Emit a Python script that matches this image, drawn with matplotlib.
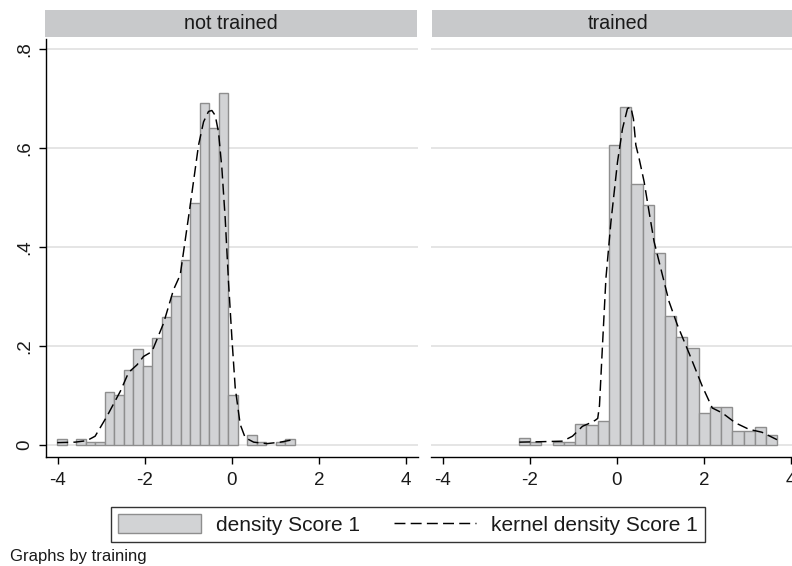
import numpy as np
import matplotlib
matplotlib.use("Agg")
import matplotlib.pyplot as plt
from matplotlib.patches import Rectangle, Patch
from matplotlib.lines import Line2D

plt.rcParams['font.family'] = ['Liberation Sans', 'DejaVu Sans']

# ---------------- data ----------------
panel_titles = ["not trained", "trained"]

# histogram: bin start, bin width, densities
nt_bin_start = -4.01
nt_bin_width = 0.2183
nt_density = [0.013, 0.0, 0.013, 0.007, 0.007, 0.108, 0.101, 0.151, 0.194, 0.159,
              0.216, 0.259, 0.302, 0.373, 0.489, 0.691, 0.640, 0.712, 0.101, 0.0,
              0.021, 0.007, 0.0, 0.007, 0.013]

tr_bin_start = -2.25
tr_bin_width = 0.258
tr_density = [0.014, 0.007, 0.0, 0.007, 0.007, 0.042, 0.040, 0.049, 0.606, 0.684,
              0.528, 0.486, 0.388, 0.260, 0.218, 0.197, 0.064, 0.077, 0.077, 0.028,
              0.028, 0.036, 0.021]

# kernel density curves
nt_kde_x = [-4.01, -3.60, -3.33, -3.14, -2.87, -2.56, -2.37, -2.18, -2.03, -1.835,
            -1.57, -1.34, -1.186, -0.956, -0.766, -0.651, -0.537, -0.46, -0.383, -0.307,
            -0.23, -0.154, -0.078, 0.0, 0.076, 0.19, 0.305, 0.50, 0.80, 1.11, 1.41]
nt_kde_y = [0.005, 0.006, 0.009, 0.018, 0.058, 0.109, 0.147, 0.162, 0.179, 0.189,
            0.246, 0.314, 0.344, 0.485, 0.606, 0.653, 0.674, 0.676, 0.666, 0.632,
            0.559, 0.458, 0.330, 0.216, 0.116, 0.042, 0.015, 0.006, 0.003, 0.006, 0.011]

tr_kde_x = [-2.24, -1.70, -1.245, -1.02, -0.79, -0.634, -0.50, -0.44, -0.40, -0.33,
            -0.252, -0.137, 0.014, 0.128, 0.243, 0.32, 0.38, 0.435, 0.51, 0.625,
            0.739, 0.854, 1.007, 1.197, 1.387, 1.655, 1.96, 2.19, 2.42, 2.72,
            3.03, 3.33, 3.675]
tr_kde_y = [0.006, 0.007, 0.008, 0.018, 0.038, 0.044, 0.050, 0.054, 0.080, 0.203,
            0.337, 0.451, 0.572, 0.639, 0.680, 0.683, 0.659, 0.606, 0.579, 0.532,
            0.471, 0.411, 0.357, 0.290, 0.243, 0.186, 0.119, 0.075, 0.065, 0.045,
            0.032, 0.026, 0.011]

x_ticks = [-4, -2, 0, 2, 4]
x_tick_labels = ["-4", "-2", "0", "2", "4"]
y_ticks = [0, 0.2, 0.4, 0.6, 0.8]
y_tick_labels = ["0", ".2", ".4", ".6", ".8"]

legend_labels = ["density Score 1", "kernel density Score 1"]
note = "Graphs by training"

# ---------------- styling ----------------
W, H = 792, 566
BAR_FC = "#d2d3d5"
BAR_EC = "#8e8e8e"
STRIP_C = "#c8c9cb"
GRID_C = "#e0e0e0"
TXT_C = "#1a1a1a"
FS_TICK = 13.5
FS_HEAD = 14.2
FS_LEG = 15
LW_K = 1.05
DASH = (7.5, 3.6)

fig = plt.figure(figsize=(W / 100, H / 100), dpi=100)
fig.patch.set_facecolor("white")

def fx(px):
    return px / W

def fy(py):
    return 1 - py / H

ax_w = 372
ax_top, ax_bot = 38.7, 457
xlim = (-4.27, 4.27)
ylim = (-0.024, 0.821)

panels = [
    (45.9, nt_bin_start, nt_bin_width, nt_density, nt_kde_x, nt_kde_y, True),
    (430.9, tr_bin_start, tr_bin_width, tr_density, tr_kde_x, tr_kde_y, False),
]

for i, (x0, bstart, bw, dens, kx, ky, show_y) in enumerate(panels):
    ax = fig.add_axes([fx(x0), fy(ax_bot), fx(ax_w), (ax_bot - ax_top) / H])
    ax.set_xlim(*xlim)
    ax.set_ylim(*ylim)
    ax.set_facecolor("white")
    for y in y_ticks:
        ax.axhline(y, color=GRID_C, lw=1.2, zorder=0)
    edges = bstart + bw * np.arange(len(dens))
    d = np.asarray(dens)
    m = d > 0
    ax.bar(edges[m], d[m], width=bw, align="edge", facecolor=BAR_FC,
           edgecolor=BAR_EC, linewidth=1.0, zorder=2)
    ax.plot(kx, ky, color="black", lw=LW_K, dashes=DASH, zorder=3)

    for s in ["top", "right"]:
        ax.spines[s].set_visible(False)
    ax.spines["bottom"].set_linewidth(1.0)
    ax.spines["left"].set_linewidth(1.0)
    ax.set_xticks(x_ticks, x_tick_labels)
    ax.tick_params(axis="x", length=5, width=1, pad=6, labelsize=FS_TICK,
                   labelcolor=TXT_C)
    if show_y:
        ax.set_yticks(y_ticks, y_tick_labels)
        ax.tick_params(axis="y", length=5, width=1, pad=4, labelsize=FS_TICK,
                       labelcolor=TXT_C)
        for lbl in ax.get_yticklabels():
            lbl.set_rotation(90)
            lbl.set_va("center")
    else:
        ax.spines["left"].set_visible(False)
        ax.set_yticks([])

    # header strip
    sx0 = 45 if i == 0 else 432
    fig.add_artist(Rectangle((fx(sx0), fy(37)), fx(ax_w), 27 / H,
                             transform=fig.transFigure, facecolor=STRIP_C,
                             edgecolor="none"))
    fig.text(fx(sx0 + ax_w / 2), fy(23.5), panel_titles[i], ha="center",
             va="center", fontsize=FS_HEAD, color=TXT_C)

handles = [Patch(facecolor=BAR_FC, edgecolor=BAR_EC, linewidth=1.0),
           Line2D([0], [0], color="black", lw=LW_K, dashes=DASH)]
leg = fig.legend(handles, legend_labels, loc="center",
                 bbox_to_anchor=(fx(408), fy(524.5)), ncol=2, fontsize=FS_LEG,
                 frameon=True, fancybox=False, edgecolor="black",
                 handlelength=3.95, handleheight=1.0, handletextpad=0.72,
                 columnspacing=1.63, borderpad=0.35, borderaxespad=0,
                 labelcolor=TXT_C)
leg.get_frame().set_linewidth(1.0)

fig.text(fx(10), fy(557), note, ha="left", va="center", fontsize=12,
         color=TXT_C)

fig.savefig("out.png", dpi=100)
